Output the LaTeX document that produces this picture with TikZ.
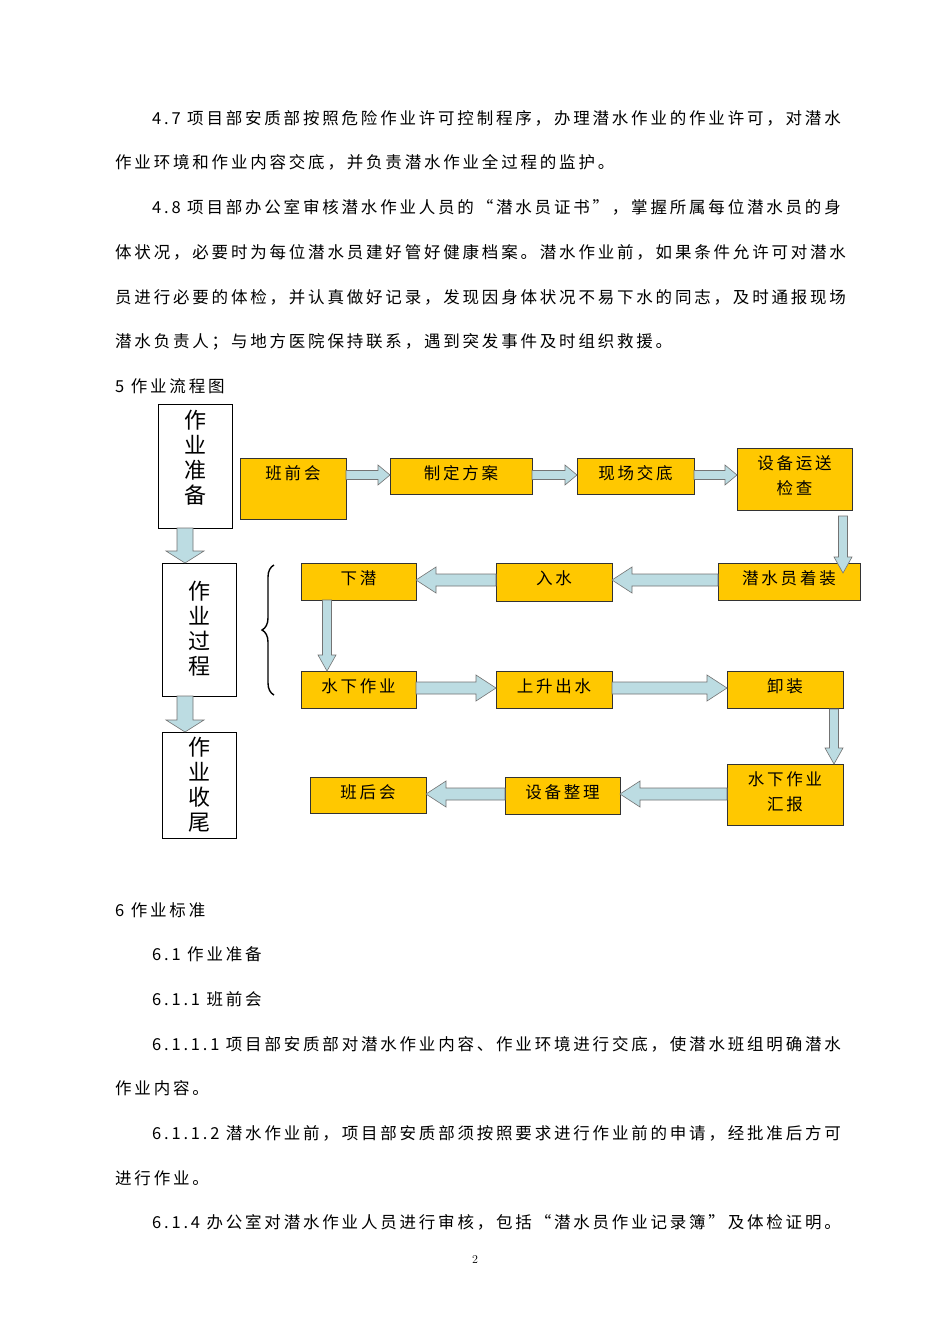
\documentclass[tikz,border=0pt]{standalone}
\usepackage{fontspec}
\usetikzlibrary{decorations.pathreplacing,calc}
\newfontfamily\cjk[LetterSpace=17]{Noto Sans CJK SC}
\newfontfamily\cjkv{Noto Sans CJK SC}
\definecolor{boxy}{HTML}{FFC800}
\definecolor{arrb}{HTML}{BCDCE2}
\tikzset{
  txt/.style={anchor=base west,inner sep=0pt,font=\cjk\fontsize{16.5}{18}\selectfont},
  ybox/.style={draw=black!80,fill=boxy,line width=0.8pt,inner sep=0pt,anchor=north west},
  wbox/.style={draw=black,fill=white,line width=1pt,inner sep=0pt,anchor=north west},
  arrowst/.style={fill=arrb,draw=black!55,line width=0.6pt},
  vlab/.style={font=\cjkv\fontsize{22}{25}\selectfont,align=center,inner sep=0pt,anchor=north}
}
\newcommand\harr[6]{\pgfmathsetmacro\hb{#2-(#6)*sign(#2-#1)}\filldraw[arrowst] (#1,#3-#4)--(\hb,#3-#4)--(\hb,#3-#5)--(#2,#3)--(\hb,#3+#5)--(\hb,#3+#4)--(#1,#3+#4)--cycle;}
\newcommand\varr[6]{\pgfmathsetmacro\hb{#2-(#6)*sign(#2-#1)}\filldraw[arrowst] (#3-#4,#1)--(#3-#4,\hb)--(#3-#5,\hb)--(#3,#2)--(#3+#5,\hb)--(#3+#4,\hb)--(#3+#4,#1)--cycle;}
\newcommand\ybx[6]{\node[ybox,minimum width=#4pt,minimum height=#5pt] (#1) at (#2,#3) {}; \node[font=\cjk\fontsize{16.5}{25}\selectfont,align=center,inner sep=0pt,anchor=north] (#1t) at ($(#2,#3)+(#4/2,7)$) {#6};}
\begin{document}
\begin{tikzpicture}[x=1pt,y=-1pt]
\fill[white] (0,0) rectangle (950,1344);
\useasboundingbox (0,0) rectangle (950,1344);
% text
\node[txt] (l1) at (152,124) {4.7 项目部安质部按照危险作业许可控制程序，办理潜水作业的作业许可，对潜水};
\node[txt] (l2) at (115,168) {作业环境和作业内容交底，并负责潜水作业全过程的监护。};
\node[txt] (l3) at (152,213) {4.8 项目部办公室审核潜水作业人员的“潜水员证书”，掌握所属每位潜水员的身};
\node[txt] (l4) at (115,258) {体状况，必要时为每位潜水员建好管好健康档案。潜水作业前，如果条件允许可对潜水};
\node[txt] (l5) at (115,303) {员进行必要的体检，并认真做好记录，发现因身体状况不易下水的同志，及时通报现场};
\node[txt] (l6) at (115,347) {潜水负责人；与地方医院保持联系，遇到突发事件及时组织救援。};
\node[txt] (l7) at (115,392) {5 作业流程图};
\node[txt] (m1) at (115,916) {6 作业标准};
\node[txt] (m2) at (152,960) {6.1 作业准备};
\node[txt] (m3) at (152,1005) {6.1.1 班前会};
\node[txt] (m4) at (152,1050) {6.1.1.1 项目部安质部对潜水作业内容、作业环境进行交底，使潜水班组明确潜水};
\node[txt] (m5) at (115,1094) {作业内容。};
\node[txt] (m6) at (152,1139) {6.1.1.2 潜水作业前，项目部安质部须按照要求进行作业前的申请，经批准后方可};
\node[txt] (m7) at (115,1184) {进行作业。};
\node[txt] (m8) at (152,1228) {6.1.4 办公室对潜水作业人员进行审核，包括“潜水员作业记录簿”及体检证明。};
\node[font=\fontsize{12}{14}\selectfont,inner sep=0pt] (pg) at (475,1259) {2};
% stage boxes
\node[wbox,minimum width=74pt,minimum height=124pt] (s1) at (158,404) {};
\node[vlab] (s1t) at (195,410) {作\\业\\准\\备};
\node[wbox,minimum width=74pt,minimum height=133pt] (s2) at (162,563) {};
\node[vlab] (s2t) at (199,581) {作\\业\\过\\程};
\node[wbox,minimum width=74pt,minimum height=106pt] (s3) at (162,732) {};
\node[vlab] (s3t) at (199,737) {作\\业\\收\\尾};
% yellow boxes
\ybx{a1}{240}{458}{106}{61}{班前会}
\ybx{a2}{390}{458}{142}{36}{制定方案}
\ybx{a3}{577}{458}{117}{36}{现场交底}
\ybx{a4}{737}{448}{115}{62}{设备运送\\检查}
\ybx{b3}{718}{563}{142}{37}{潜水员着装}
\ybx{b2}{496}{563}{116}{38}{入水}
\ybx{b1}{301}{563}{115}{37}{下潜}
\ybx{c1}{301}{671}{115}{37}{水下作业}
\ybx{c2}{496}{671}{116}{37}{上升出水}
\ybx{c3}{727}{671}{116}{37}{卸装}
\ybx{d3}{727}{764}{116}{61}{水下作业\\汇报}
\ybx{d2}{505}{777}{115}{37}{设备整理}
\ybx{d1}{310}{777}{116}{36}{班后会}
% arrows
\harr{346}{390}{475}{4.5}{10}{12}
\harr{532}{577}{475}{4.5}{10}{12}
\harr{694}{737}{475}{4.5}{10}{12}
\varr{516}{573}{843}{4.5}{9}{16}
\harr{718}{612}{580}{6}{13}{20}
\harr{496}{416}{580}{6}{13}{20}
\varr{600}{671}{327}{4.5}{9}{16}
\harr{416}{496}{688}{6}{13}{20}
\harr{612}{727}{688}{6}{13}{20}
\varr{709}{764}{834}{4.5}{9}{16}
\harr{727}{620}{794}{6}{13}{20}
\harr{505}{426}{794}{6}{13}{20}
\varr{528}{563}{185}{8}{19}{12}
\varr{696}{732}{185}{8}{19}{12}
% brace
\draw[line width=1.4pt,decorate,decoration={brace,amplitude=12pt}] (274,695) -- (274,565);
\end{tikzpicture}
\end{document}
